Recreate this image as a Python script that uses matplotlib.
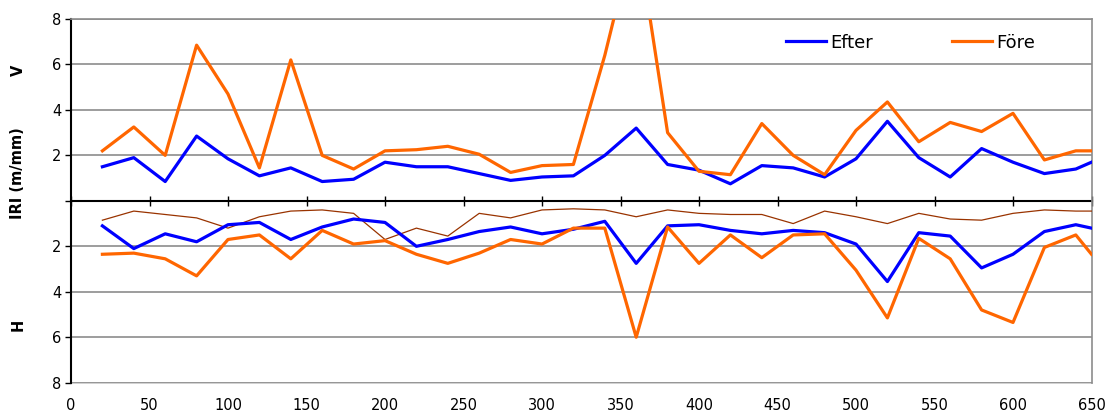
import matplotlib
matplotlib.use('Agg')
import matplotlib.pyplot as plt

# Distance (m)
x = [20, 40, 60, 80, 100, 120, 140, 160, 180, 200, 220, 240, 260, 280, 300, 320,
     340, 360, 380, 400, 420, 440, 460, 480, 500, 520, 540, 560, 580, 600, 620, 640, 650]

# V (left wheel track) IRI, m/mm
v_efter = [1.5, 1.9, 0.85, 2.85, 1.85, 1.1, 1.45, 0.85, 0.95, 1.7, 1.5, 1.5, 1.2, 0.9, 1.05, 1.1,
           2.0, 3.2, 1.6, 1.35, 0.75, 1.55, 1.45, 1.05, 1.85, 3.5, 1.9, 1.05, 2.3, 1.7, 1.2, 1.4, 1.7]
v_fore = [2.2, 3.25, 2.0, 6.85, 4.7, 1.45, 6.2, 2.0, 1.4, 2.2, 2.25, 2.4, 2.05, 1.25, 1.55, 1.6,
          6.4, 12.0, 3.0, 1.3, 1.15, 3.4, 2.0, 1.15, 3.1, 4.35, 2.6, 3.45, 3.05, 3.85, 1.8, 2.2, 2.2]

# H (right wheel track) IRI, m/mm
h_efter = [1.1, 2.1, 1.45, 1.8, 1.05, 0.95, 1.7, 1.15, 0.8, 0.95, 2.0, 1.7, 1.35, 1.15, 1.45, 1.25,
           0.9, 2.75, 1.1, 1.05, 1.3, 1.45, 1.3, 1.4, 1.9, 3.55, 1.4, 1.55, 2.95, 2.35, 1.35, 1.05, 1.2]
h_fore = [2.35, 2.3, 2.55, 3.3, 1.7, 1.5, 2.55, 1.3, 1.9, 1.75, 2.35, 2.75, 2.3, 1.7, 1.9, 1.2,
          1.2, 6.0, 1.15, 2.75, 1.5, 2.5, 1.5, 1.45, 3.05, 5.15, 1.65, 2.55, 4.8, 5.35, 2.05, 1.5, 2.35]
h_third = [0.85, 0.45, 0.6, 0.75, 1.2, 0.7, 0.45, 0.4, 0.55, 1.7, 1.2, 1.55, 0.55, 0.75, 0.4, 0.35,
           0.4, 0.7, 0.4, 0.55, 0.6, 0.6, 1.0, 0.45, 0.7, 1.0, 0.55, 0.8, 0.85, 0.55, 0.4, 0.45, 0.45]

x_ticks = list(range(0, 651, 50))
y_ticks = [-8, -6, -4, -2, 0, 2, 4, 6, 8]
y_ticklabels = ['8', '6', '4', '2', '', '2', '4', '6', '8']

BLUE = '#0000FF'
ORANGE = '#FF6600'
BROWN = '#993300'

plt.rcParams['font.family'] = ['DejaVu Sans']

fig = plt.figure(figsize=(11.2, 4.15), dpi=100)
ax = fig.add_axes([71 / 1120, 1 - 382.7 / 415, (1091.5 - 71) / 1120, (382.7 - 19) / 415])

ax.plot(x, [-v for v in h_third], color=BROWN, lw=0.9, zorder=3)
ax.plot(x, v_efter, color=BLUE, lw=2.3, label='Efter', zorder=4)
ax.plot(x, [-v for v in h_efter], color=BLUE, lw=2.3, zorder=4)
ax.plot(x, v_fore, color=ORANGE, lw=2.3, label='Före', zorder=5)
ax.plot(x, [-v for v in h_fore], color=ORANGE, lw=2.3, zorder=5)

ax.set_xlim(0, 650)
ax.set_ylim(-8, 8)
ax.set_yticks(y_ticks)
ax.set_yticklabels(y_ticklabels)
ax.yaxis.grid(True, color='#8c8c8c', lw=1.2)
ax.set_axisbelow(True)
ax.tick_params(axis='y', direction='out', length=4, width=1, labelsize=10.5, pad=3, colors='black')

# Zero line acting as x axis with crossing ticks
ax.spines['bottom'].set_position(('data', 0))
ax.spines['bottom'].set_color('black')
ax.spines['bottom'].set_linewidth(1.5)
ax.spines['bottom'].set_zorder(2)
ax.set_xticks(x_ticks)
ax.tick_params(axis='x', direction='inout', length=7, width=1, labelbottom=False)

ax.spines['left'].set_color('black')
ax.spines['left'].set_linewidth(1.5)
ax.spines['top'].set_color('#8c8c8c')
ax.spines['top'].set_linewidth(1.2)
ax.spines['right'].set_color('#8c8c8c')
ax.spines['right'].set_linewidth(1.2)

sec = ax.secondary_xaxis('bottom')
sec.set_xticks(x_ticks)
sec.tick_params(length=0, labelsize=10.5, pad=11)
sec.spines['bottom'].set_color('#c8c8c8')
sec.spines['bottom'].set_linewidth(1.2)

# Axis side labels
fig.text(18 / 1120, 1 - 70 / 415, 'V', rotation=90, ha='center', va='center',
         fontsize=10.5, fontweight='bold')
fig.text(18 / 1120, 1 - 173 / 415, 'IRI (m/mm)', rotation=90, ha='center', va='center',
         fontsize=10.5, fontweight='bold')
fig.text(18 / 1120, 1 - 325 / 415, 'H', rotation=90, ha='center', va='center',
         fontsize=10.5, fontweight='bold')

leg = ax.legend(loc='center left', bbox_to_anchor=(786 / 1120, 1 - 42.7 / 415),
                bbox_transform=fig.transFigure, ncol=2, frameon=False,
                fontsize=13, handlelength=2.2, handletextpad=0.25, columnspacing=4.4,
                borderaxespad=0, borderpad=0)

fig.savefig('out.png', dpi=100)
